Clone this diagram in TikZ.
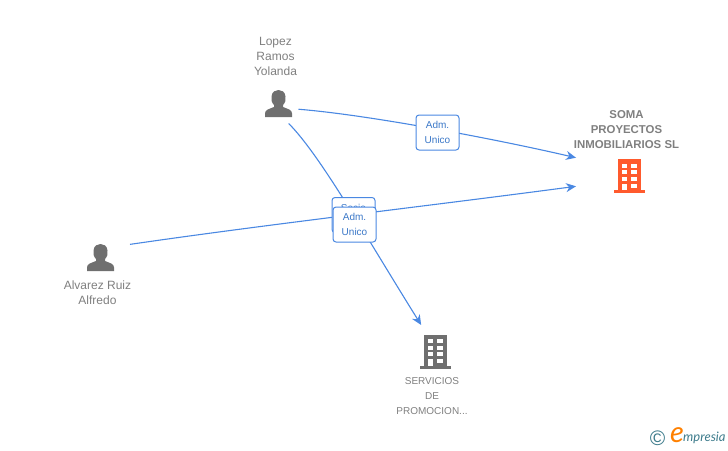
\documentclass[tikz,border=0pt]{standalone}
\usepackage{fontspec}
\setmainfont{Liberation Sans}
\newfontfamily\logofont{Lato}
\definecolor{linkblue}{HTML}{4A88E2}
\definecolor{labelblue}{HTML}{3B78C8}
\definecolor{icongrey}{HTML}{6F6F6F}
\definecolor{textgrey}{HTML}{7F7F7F}
\definecolor{orangeb}{HTML}{FF5A2D}
\definecolor{tealc}{HTML}{3E7C8C}
\usetikzlibrary{arrows.meta}
\tikzset{
  x=1pt,y=-1pt,
  anchorbox/.style={inner sep=0pt,outer sep=0pt,minimum width=#1},
  caption/.style={text=textgrey,align=center,inner sep=0pt,font=\fontsize{12}{15}\selectfont},
  smallcaption/.style={text=textgrey,align=center,inner sep=0pt,font=\fontsize{10}{15}\selectfont},
  strongcaption/.style={text=textgrey,align=center,inner sep=0pt,font=\fontsize{11.4}{15}\selectfont\bfseries},
  link/.style={draw=linkblue,line width=1.1pt,-{Stealth[length=10pt,width=9pt]}},
  rolebox/.style={draw=linkblue,line width=1pt,rounded corners=3pt,fill=white,text=labelblue,
    minimum width=43pt,minimum height=35pt,inner sep=0pt,align=center,
    font=\fontsize{10}{15}\selectfont},
  pics/person/.style={code={
    \fill[icongrey] (-13.5,13.5) -- (-13.5,10) .. controls (-13.5,6) and (-9,5.5) .. (-4.5,3.5)
      -- (-4.5,1.5) .. controls (-7,-1) and (-7.5,-4) .. (-7,-7)
      .. controls (-6.5,-12) and (-3,-13.5) .. (0,-13.5)
      .. controls (3,-13.5) and (6.5,-12) .. (7,-7)
      .. controls (7.5,-4) and (7,-1) .. (4.5,1.5) -- (4.5,3.5)
      .. controls (9,5.5) and (13.5,6) .. (13.5,10) -- (13.5,13.5) -- cycle;
  }},
  pics/tower/.style={code={
    \fill[#1] (-11.5,-17) rectangle (11.5,14);
    \fill[#1] (-15.5,14) rectangle (15.5,17);
    \foreach \r in {-12.5,-5.8,0.8}{
      \fill[white] (-7.8,\r) rectangle (-2.2,\r+4);
      \fill[white] (1.7,\r) rectangle (7.3,\r+4);
    }
    \fill[white] (-7.8,7.5) rectangle (-2.2,14);
    \fill[white] (1.7,7.5) rectangle (7.3,11.5);
  }},
}
\begin{document}
\begin{tikzpicture}
\useasboundingbox (0,0) rectangle (728,450);
% anchor boxes for icons
\node[anchorbox=40pt,minimum height=40pt] (lopez) at (278.5,103.5) {};
\node[anchorbox=59pt,minimum height=40pt] (alvarez) at (100.5,257.5) {};
\node[anchorbox=106pt,minimum height=60pt] (soma) at (629,176) {};
\node[anchorbox=40pt,minimum height=52pt] (servicios) at (435,351) {};
% icons
\pic at (278.5,103.5) {person};
\pic at (100.5,257.5) {person};
\pic at (629.5,176) {tower=orangeb};
\pic at (435.5,351.5) {tower=icongrey};
% captions
\node[caption] (lopeztext) at (275.5,56) {Lopez\\Ramos\\Yolanda};
\node[caption] (alvareztext) at (97.5,292.5) {Alvarez Ruiz\\Alfredo};
\node[strongcaption] (somatext) at (626.5,130) {SOMA\\PROYECTOS\\INMOBILIARIOS SL};
\node[smallcaption] (serviciostext) at (432,396) {SERVICIOS\\DE\\PROMOCION...};
% connectors
\path[link] (lopez.-16) .. controls (370,115) and (500,140) .. (soma.161.2);
\path[link] (lopez.-63) .. controls (320,155) and (365,235) .. (servicios.118);
\path[link] (alvarez.24.6) .. controls (270,224) and (420,207) .. (soma.191.5);
% role labels
\node[rolebox] (role1) at (437.5,132.5) {Adm.\\Unico};
\node[rolebox] (role2) at (353.5,215) {Socio\\\phantom{Unico}};
\node[rolebox] (role3) at (354.5,224.5) {Adm.\\Unico};
% logo
\node[text=tealc,inner sep=0pt,font=\fontsize{21}{21}\selectfont] (copyr) at (657.5,438.5) {©};
\node[text=orange,inner sep=0pt,font=\logofont\itshape\fontsize{29}{29}\selectfont] (logoe) at (677,435.5) {e};
\node[text=tealc,anchor=west,inner sep=0pt,font=\logofont\itshape\fontsize{13}{13}\selectfont] (logotext) at (683,438) {mpresia};
\end{tikzpicture}
\end{document}
